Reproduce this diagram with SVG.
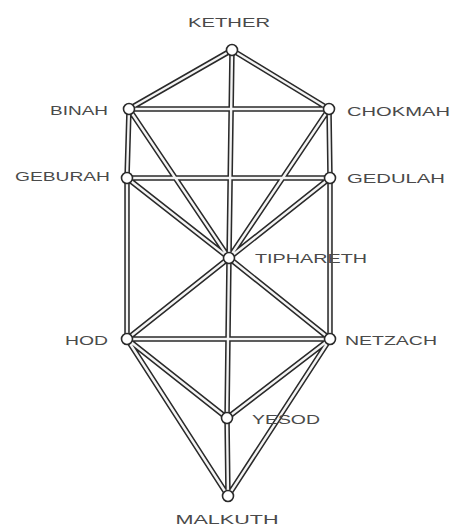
<svg xmlns="http://www.w3.org/2000/svg" width="453" height="526" viewBox="0 0 453 526">
<style>
.o{stroke:#2a2a2a;stroke-width:5.5;fill:none;stroke-linecap:butt}
.i{stroke:#f4f4f4;stroke-width:2.4;fill:none}
.n{fill:#fff;stroke:#2a2a2a;stroke-width:1.6}
text{font-family:"Liberation Sans",Arial,sans-serif;font-size:13.5px;fill:#4a4a4a}
</style>
<rect width="453" height="526" fill="#fff"/>
<defs>
<g id="paths">
<path d="M232,50L129,109M232,50L329,109M232,50L229,258M129,109L329,109M129,109L127,178M129,109L229,258M329,109L330,178M329,109L229,258M127,178L330,178M127,178L229,258M127,178L127,339M330,178L229,258M330,178L330,339M229,258L127,339M229,258L330,339M229,258L227,418M127,339L330,339M127,339L227,418M127,339L228,496M330,339L227,418M330,339L228,496M227,418L228,496"/>
</g>
</defs>
<g id="connectors">
<use href="#paths" class="o"/>
<use href="#paths" class="i"/>
</g>
<g id="kether"><circle class="n" cx="232" cy="50" r="5.5"/><text x="229" y="27" text-anchor="middle" textLength="82" lengthAdjust="spacingAndGlyphs">KETHER</text></g>
<g id="binah"><circle class="n" cx="129" cy="109" r="5.5"/><text x="50" y="115" textLength="58" lengthAdjust="spacingAndGlyphs">BINAH</text></g>
<g id="chokmah"><circle class="n" cx="329" cy="109" r="5.5"/><text x="347" y="116" textLength="103" lengthAdjust="spacingAndGlyphs">CHOKMAH</text></g>
<g id="geburah"><circle class="n" cx="127" cy="178" r="5.5"/><text x="15" y="181" textLength="95" lengthAdjust="spacingAndGlyphs">GEBURAH</text></g>
<g id="gedulah"><circle class="n" cx="330" cy="178" r="5.5"/><text x="347" y="183" textLength="98" lengthAdjust="spacingAndGlyphs">GEDULAH</text></g>
<g id="tiphareth"><circle class="n" cx="229" cy="258" r="5.5"/><text x="255" y="263" textLength="112" lengthAdjust="spacingAndGlyphs">TIPHARETH</text></g>
<g id="hod"><circle class="n" cx="127" cy="339" r="5.5"/><text x="65" y="345" textLength="43" lengthAdjust="spacingAndGlyphs">HOD</text></g>
<g id="netzach"><circle class="n" cx="330" cy="339" r="5.5"/><text x="345" y="345" textLength="92" lengthAdjust="spacingAndGlyphs">NETZACH</text></g>
<g id="yesod"><circle class="n" cx="227" cy="418" r="5.5"/><text x="252" y="424" textLength="68" lengthAdjust="spacingAndGlyphs">YESOD</text></g>
<g id="malkuth"><circle class="n" cx="228" cy="496" r="5.5"/><text x="227" y="524" text-anchor="middle" textLength="103" lengthAdjust="spacingAndGlyphs">MALKUTH</text></g>
</svg>
